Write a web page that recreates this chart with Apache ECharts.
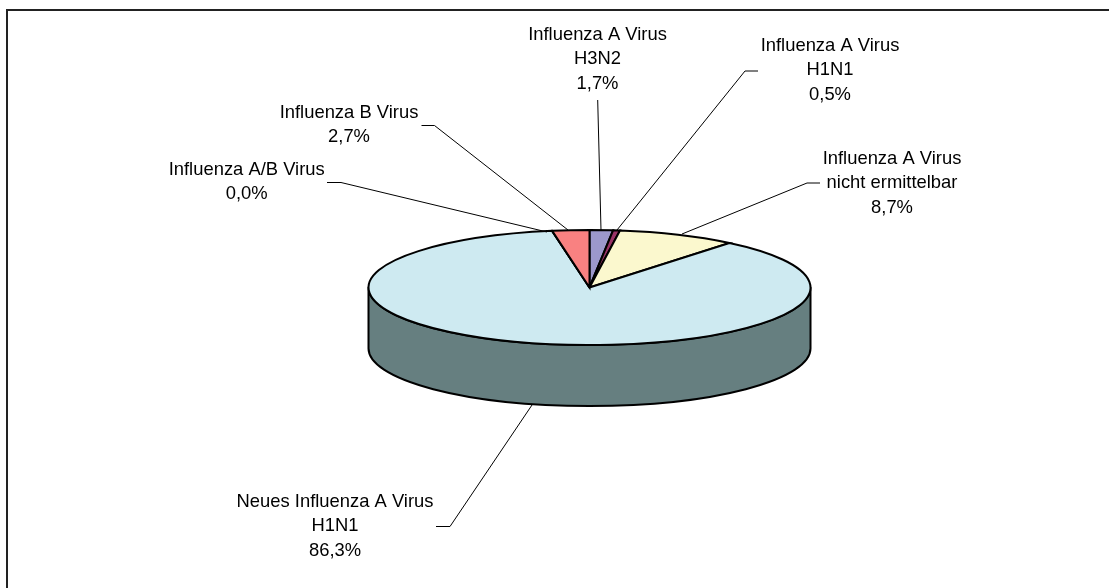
<!DOCTYPE html>
<html>
<head>
<meta charset="utf-8">
<style>html,body{margin:0;padding:0;background:#fff}#c{width:1109px;height:588px}</style>
<script src="https://cdn.jsdelivr.net/npm/echarts@6/dist/echarts.min.js"></script>
</head>
<body>
<div id="c"></div>
<script>
// Data, clockwise from 12 o'clock
const categories = ['Influenza A Virus\nH3N2', 'Influenza A Virus\nH1N1', 'Influenza A Virus\nnicht ermittelbar', 'Neues Influenza A Virus\nH1N1', 'Influenza A/B Virus', 'Influenza B Virus'];
const values = [1.7, 0.5, 8.7, 86.3, 0.0, 2.7];
const sliceColors = ['#9C98CC', '#993366', '#FBF8CE', '#CEEAF1', '#7F7FFF', '#F98181'];
const wallColors = ['#4E4C66', '#4D1A33', '#7E7C67', '#667F80', '#404080', '#7C4040'];

// Layout, separate from the data
const pie = { cx: 589.5, cy: 287.5, rx: 221, ry: 57.5, depth: 61 };
const labelCentres = [[597.5, 59], [830, 70], [892, 183], [335, 526], [246.7, 182], [349, 125]];
const leaderPaths = [
  [[597.7, 100], [601, 230]],
  [[758, 71], [745, 71], [617, 230]],
  [[820, 183], [807, 183], [682, 234]],
  [[436, 526.5], [450, 526.5], [532, 405]],
  [[327, 182.5], [341, 182.5], [547, 232]],
  [[421.5, 125.5], [434.5, 125.5], [568, 230]]
];

const total = values.reduce((a, b) => a + b, 0);
const cumulative = [];
values.reduce((acc, v, i) => (cumulative[i] = acc, acc + v), 0);
const angleOf = v => v / total * 2 * Math.PI;
const rim = (a, dy) => [pie.cx + pie.rx * Math.sin(a), pie.cy - pie.ry * Math.cos(a) + (dy || 0)];
const arcTo = (a0, a1, dy, sweep) => {
  const p = rim(a1, dy);
  const large = Math.abs(a1 - a0) > Math.PI ? 1 : 0;
  return `A ${pie.rx} ${pie.ry} 0 ${large} ${sweep} ${p[0]} ${p[1]}`;
};

function renderSlice(params, api) {
  const i = params.dataIndex;
  const a0 = angleOf(cumulative[i]);
  const a1 = angleOf(cumulative[i] + api.value(0));
  const children = [];
  const w0 = Math.max(a0, Math.PI / 2), w1 = Math.min(a1, 3 * Math.PI / 2);
  if (w1 > w0) {
    const s = rim(w0), e = rim(w1, pie.depth);
    children.push({
      type: 'path',
      shape: { pathData: `M ${s[0]} ${s[1]} ${arcTo(w0, w1, 0, 1)} L ${e[0]} ${e[1]} ${arcTo(w1, w0, pie.depth, 0)} Z` },
      style: { fill: wallColors[i], stroke: '#000', lineWidth: 2, lineJoin: 'round' }
    });
  }
  const s = rim(a0);
  children.push({
    type: 'path',
    shape: { pathData: `M ${pie.cx} ${pie.cy} L ${s[0]} ${s[1]} ${arcTo(a0, a1, 0, 1)} Z` },
    style: { fill: sliceColors[i], stroke: '#000', lineWidth: 2, lineJoin: 'miter' }
  });
  return { type: 'group', children };
}

function renderLabel(params, api) {
  const i = params.dataIndex;
  const pct = api.value(0).toFixed(1).replace('.', ',') + '%';
  const c = labelCentres[i];
  return {
    type: 'group',
    children: [
      { type: 'polyline', shape: { points: leaderPaths[i] }, style: { fill: null, stroke: '#000', lineWidth: 1 } },
      { type: 'text', style: { text: categories[i] + '\n' + pct, x: c[0], y: c[1], align: 'center', verticalAlign: 'middle', fontFamily: 'Liberation Sans', fontSize: 18.4, lineHeight: 24.5, fill: '#000' } }
    ]
  };
}

const rows = values.map(v => [v]);
const chart = echarts.init(document.getElementById('c'), null, { renderer: 'canvas' });
chart.setOption({
  animation: false,
  backgroundColor: '#fff',
  graphic: [
    { type: 'line', silent: true, shape: { x1: 6, y1: 10, x2: 1109, y2: 10 }, style: { stroke: '#222', lineWidth: 2 } },
    { type: 'line', silent: true, shape: { x1: 7, y1: 9, x2: 7, y2: 588 }, style: { stroke: '#222', lineWidth: 2 } }
  ],
  series: [
    { type: 'custom', coordinateSystem: 'none', silent: true, data: rows, renderItem: renderSlice, z: 2 },
    { type: 'custom', coordinateSystem: 'none', silent: true, data: rows, renderItem: renderLabel, z: 3 }
  ]
});
</script>
</body>
</html>
